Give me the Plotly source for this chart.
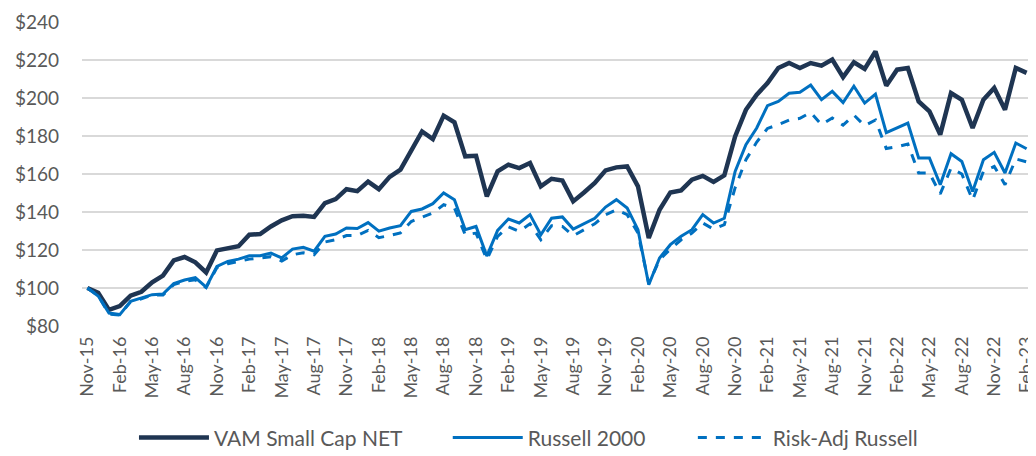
import pandas as pd
import plotly.graph_objects as go

# Monthly categories Nov-15 .. Feb-23
months = [d.strftime("%b-%y") for d in pd.date_range("2015-11-01", "2023-02-01", freq="MS")]

vam = [100, 97.5, 88.5, 90.5, 96, 98, 103, 106.5, 114.5, 116.3,
       113.5, 108.2, 119.8, 120.7, 122, 128, 128.4, 132.4, 135.6, 137.8,
       138, 137.4, 144.7, 146.8, 152, 151, 156, 152, 158.5, 162.3,
       171.9, 182.4, 178.4, 190.7, 187.2, 169.3, 169.6, 148.2, 161.4, 164.9,
       163.1, 165.8, 153.5, 157.5, 156.6, 145.6, 150.3, 155.3, 161.9, 163.5,
       164, 153.5, 126.3, 141.2, 150.3, 151.4, 157, 159, 155.8, 159.3,
       179.8, 193.8, 201.7, 207.9, 215.8, 218.4, 215.8, 218.4, 217, 220.2,
       211, 218.8, 215.3, 224.5, 206.5, 214.9, 215.8, 198.2, 193, 180.7,
       202.6, 199.1, 184.2, 199.1, 205.3, 193.8, 215.8, 213.2]

russell = [100, 95.8, 86.8, 86, 93, 94.8, 96.5, 96.8, 102.3, 104.2,
           105.5, 100.5, 111.4, 114, 115.2, 117, 117, 118.4, 115.8, 120.5,
           121.4, 119.4, 127.2, 128.4, 131.6, 131.3, 134.4, 129.9, 131.6, 132.8,
           140.3, 141.6, 144.4, 150, 146.5, 130.7, 132.4, 116.8, 130.3, 136.3,
           134.2, 138.6, 128, 136.7, 137.4, 131, 133.8, 136.7, 142.6, 146.5,
           142.1, 130.7, 101.7, 115.8, 122.8, 127.2, 130.7, 138.6, 134.2, 136.7,
           161.4, 175.4, 184.2, 196, 198.2, 202.5, 203, 206.8, 199.1, 203.5,
           197.6, 206.2, 197.3, 202, 181.8, 184.2, 186.8, 168.4, 168.4, 154.4,
           170.7, 166.6, 150.8, 167.5, 171.4, 160.5, 176.3, 173.3]

risk_adj = [100, 96, 86.3, 85.8, 92.8, 94.3, 96.3, 96.3, 101.8, 103.6,
            104.3, 100.2, 110.8, 112.8, 114, 115.2, 115.8, 116.5, 114.2, 117.5,
            118.6, 117.5, 124.2, 125.4, 127.6, 127.6, 130.3, 126.5, 127.6, 129,
            135, 137.4, 139.5, 143.8, 142.1, 128, 128.9, 115, 127.2, 132.2,
            129.8, 133.8, 125.4, 132.8, 132.4, 127.5, 130.7, 133.8, 138.6, 141.2,
            138.6, 128.9, 102.4, 114.9, 120.5, 125.4, 128.9, 134.2, 131, 133.3,
            152.8, 167.5, 176.8, 184, 186, 188.4, 189.3, 192.4, 186, 189.5,
            185.7, 191, 185.4, 188.4, 173.4, 174.3, 175.8, 160.5, 160.5, 149.5,
            163.1, 160, 146.3, 161.4, 164, 154.4, 167.9, 166.4]

tick_labels = months[::3]
y_ticks = [80, 100, 120, 140, 160, 180, 200, 220, 240]

NAVY = "#1F3552"
BLUE = "#0070C0"
TXT = "#595959"
FONT = "Lato"

fig = go.Figure()
fig.add_trace(go.Scatter(x=months, y=vam, name="VAM Small Cap NET", mode="lines",
                         line=dict(color=NAVY, width=4.5), legend="legend"))
fig.add_trace(go.Scatter(x=months, y=russell, name="Russell 2000", mode="lines",
                         line=dict(color=BLUE, width=3), legend="legend2"))
fig.add_trace(go.Scatter(x=months, y=risk_adj, name="Risk-Adj Russell", mode="lines",
                         line=dict(color=BLUE, width=3, dash="dash"), legend="legend3"))

leg_common = dict(orientation="h", xanchor="left", y=-0.368, yanchor="middle",
                  font=dict(size=21, color=TXT, family=FONT), itemwidth=70,
                  bgcolor="rgba(0,0,0,0)")

# the page body adds an 8px margin at left/top, so the figure is sized to fit the window
fig.update_layout(
    width=1028, height=448,
    margin=dict(l=74, r=4, t=14, b=130, autoexpand=False),
    paper_bgcolor="white", plot_bgcolor="white",
    font=dict(family=FONT, color=TXT, size=19),
    showlegend=True,
    legend=dict(x=0.0547, **leg_common),
    legend2=dict(x=0.385, **leg_common),
    legend3=dict(x=0.643, **leg_common),
)
fig.update_xaxes(type="category", categoryorder="array", categoryarray=months,
                 range=[-0.5, len(months) - 0.5], automargin=False,
                 tickmode="array", tickvals=tick_labels, ticktext=tick_labels,
                 tickangle=-90, tickfont=dict(size=18, color=TXT, family=FONT),
                 showgrid=False, showline=False, zeroline=False, ticks="",
                 ticklabelstandoff=6)
fig.update_yaxes(range=[80, 240], tickmode="array", tickvals=y_ticks, automargin=False,
                 ticktext=[f"${v}" for v in y_ticks],
                 tickfont=dict(size=19, color=TXT, family=FONT),
                 showgrid=True, gridcolor="#D9D9D9", gridwidth=1.5,
                 showline=False, zeroline=False, ticks="", ticklabelstandoff=22)

fig.write_html("out.html")
